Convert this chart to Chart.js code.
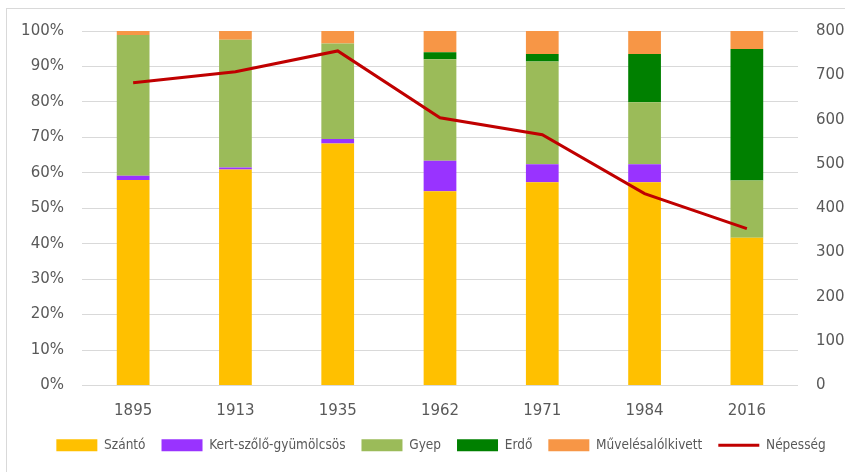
<!DOCTYPE html>
<html>
<head>
<meta charset="utf-8">
<script src="https://cdn.jsdelivr.net/npm/chart.js@4.4.1/dist/chart.umd.min.js"></script>
<style>
  body { margin: 0; background: #fff; }
  #wrap { position: relative; width: 845px; height: 472px; overflow: hidden; }
  #frame { position: absolute; left: 6px; top: 8px; width: 900px; height: 500px;
           border-top: 1px solid #d9d9d9; border-left: 1px solid #d9d9d9; }
  canvas { position: absolute; left: 0; top: 0; }
</style>
</head>
<body>
<div id="wrap">
  <div id="frame"></div>
  <canvas id="myChart" width="845" height="472"></canvas>
</div>
<script>
const years = ['1895', '1913', '1935', '1962', '1971', '1984', '2016'];
const szanto = [58.0, 60.9, 68.3, 54.8, 57.3, 57.3, 41.7];
const kert = [1.2, 0.6, 1.2, 8.6, 5.1, 5.1, 0];
const gyep = [39.7, 36.0, 27.0, 28.6, 29.0, 17.5, 16.1];
const erdo = [0, 0, 0, 2.0, 2.1, 13.6, 37.1];
const muveles = [1.1, 2.5, 3.5, 6.0, 6.5, 6.5, 5.1];
const nepesseg = [683, 708, 755, 604, 566, 433, 354];

const tickFont = { family: 'DejaVu Sans', size: 15 };
const gray = '#595959';

// push the legend a bit to the right, like the original
const legendShift = {
    id: 'legendShift',
    afterLayout: function (chart) {
        chart.legend.left += 37;
    }
};

const ctx = document.getElementById('myChart').getContext('2d');
var myChart = new Chart(ctx, {
    type: 'bar',
    data: {
        labels: years,
        datasets: [
            { label: 'Szántó', data: szanto, backgroundColor: '#FFC000', yAxisID: 'y', order: 1 },
            { label: 'Kert-szőlő-gyümölcsös', data: kert, backgroundColor: '#9933FF', yAxisID: 'y', order: 1 },
            { label: 'Gyep', data: gyep, backgroundColor: '#9BBB59', yAxisID: 'y', order: 1 },
            { label: 'Erdő', data: erdo, backgroundColor: '#008000', yAxisID: 'y', order: 1 },
            { label: 'Művelésalólkivett', data: muveles, backgroundColor: '#F79646', yAxisID: 'y', order: 1 },
            {
                type: 'line', label: 'Népesség', data: nepesseg, yAxisID: 'y1', order: 0,
                borderColor: '#C00000', borderWidth: 3, pointRadius: 0, tension: 0, fill: false
            }
        ]
    },
    plugins: [legendShift],
    options: {
        responsive: false,
        animation: false,
        barPercentage: 0.8,
        categoryPercentage: 0.4,
        layout: { padding: { top: 31, left: 0, right: 0, bottom: 10 } },
        scales: {
            x: {
                stacked: true,
                grid: { display: false },
                border: { display: false },
                ticks: { color: gray, font: tickFont, padding: 9 },
                afterFit: function (s) { s.height = 37; }
            },
            y: {
                stacked: true,
                min: 0, max: 100,
                grid: { color: '#d9d9d9', drawTicks: false },
                border: { display: false },
                ticks: { stepSize: 10, color: gray, font: tickFont, padding: 18,
                         callback: function (v) { return v + '%'; } },
                afterFit: function (s) { s.width = 82; }
            },
            y1: {
                position: 'right',
                min: 0, max: 800,
                grid: { drawOnChartArea: false, drawTicks: false },
                border: { display: false },
                ticks: { stepSize: 100, color: gray, font: tickFont, padding: 18 },
                afterFit: function (s) { s.width = 47; }
            }
        },
        plugins: {
            tooltip: { enabled: false },
            legend: {
                position: 'bottom',
                labels: {
                    usePointStyle: true,
                    pointStyleWidth: 41,
                    boxHeight: 12,
                    padding: 16,
                    color: gray,
                    font: { family: "'Liberation Sans Narrow', 'DejaVu Sans Condensed', sans-serif", size: 13.5 },
                    generateLabels: function (chart) {
                        return chart.data.datasets.map(function (ds, i) {
                            const isLine = ds.type === 'line';
                            return {
                                text: ds.label,
                                fillStyle: isLine ? ds.borderColor : ds.backgroundColor,
                                strokeStyle: isLine ? ds.borderColor : ds.backgroundColor,
                                lineWidth: isLine ? 3 : 0,
                                pointStyle: isLine ? 'line' : 'rect',
                                fontColor: gray,
                                hidden: false,
                                datasetIndex: i
                            };
                        });
                    }
                }
            }
        }
    }
});
</script>
</body>
</html>
